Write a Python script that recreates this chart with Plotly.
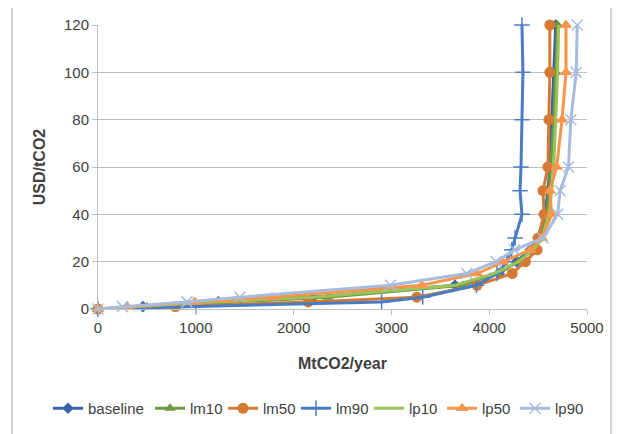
import plotly.graph_objects as go

price = [0, 1, 3, 5, 10, 15, 20, 25, 30, 40, 50, 60, 80, 100, 120]

baseline = [0, 460, 1230, 2200, 3650, 4100, 4280, 4420, 4500, 4570, 4600, 4620, 4640, 4660, 4680]
lm10 = [0, 500, 1370, 2350, 3730, 4080, 4300, 4440, 4520, 4590, 4610, 4630, 4660, 4680, 4700]
lm50 = [0, 790, 2150, 3260, 3875, 4235, 4370, 4490, 4500, 4560, 4550, 4600, 4610, 4620, 4620]
lm90 = [0, 1000, 2900, 3320, 3870, 4080, 4180, 4230, 4265, 4335, 4315, 4325, 4335, 4345, 4335]
lp10 = [0, 400, 1200, 2200, 3650, 4050, 4300, 4450, 4540, 4610, 4640, 4660, 4680, 4700, 4710]
lp50 = [0, 300, 990, 1780, 3310, 3875, 4140, 4420, 4540, 4640, 4620, 4690, 4745, 4785, 4785]
lp90 = [0, 250, 910, 1450, 2990, 3770, 4070, 4260, 4550, 4700, 4725, 4810, 4835, 4890, 4900]

series = [
    ("baseline", baseline, "#3B64A8", "diamond", 9),
    ("lm10", lm10, "#6C9A3C", "triangle-up", 10),
    ("lm50", lm50, "#D47A35", "circle", 11),
    ("lm90", lm90, "#4A7CC4", "cross-thin", 11),
    ("lp10", lp10, "#9CC35A", None, 0),
    ("lp50", lp50, "#F7964A", "triangle-up", 11),
    ("lp90", lp90, "#A7BBDE", "x-thin", 11),
]

# page is offset by the browser's 8px body margin
W, H = 615, 426
L, R, T, B = 90, 36, 17, 125
PW, PH = W - L - R, H - T - B

fig = go.Figure()
for i, (name, xs, color, sym, size) in enumerate(series):
    leg = "legend" if i == 0 else "legend2"
    if sym is None:
        fig.add_trace(go.Scatter(x=xs, y=price, name=name, mode="lines", legend=leg,
                                 line=dict(color=color, width=3), cliponaxis=False))
    else:
        mk = dict(symbol=sym, size=size, color=color)
        if "thin" in sym:
            mk["line"] = dict(color=color, width=1.5)
        fig.add_trace(go.Scatter(x=xs, y=price, name=name, mode="lines+markers", legend=leg,
                                 line=dict(color=color, width=3), marker=mk,
                                 cliponaxis=False))

font = "Liberation Sans"
legy = (301 - 384) / PH
legcommon = dict(orientation="h", y=legy, yanchor="top", xanchor="left",
                 font=dict(family=font, size=15, color="#404040"), itemwidth=30,
                 tracegroupgap=0, bgcolor="rgba(0,0,0,0)")
fig.update_layout(
    width=W, height=H,
    margin=dict(l=L, r=R, t=T, b=B, autoexpand=False),
    paper_bgcolor="white", plot_bgcolor="white",
    font=dict(family=font, size=15, color="#404040"),
    showlegend=True,
    legend=dict(x=(40 - L) / PW, **legcommon),
    legend2=dict(x=(142 - L) / PW, entrywidth=28, entrywidthmode="pixels", **legcommon),
    xaxis=dict(range=[0, 5000], dtick=1000, showgrid=False, zeroline=False, automargin=False,
               showline=True, linecolor="#BFBFBF", linewidth=1,
               ticks="outside", ticklen=5, tickcolor="#BFBFBF",
               title=dict(text="<b>MtCO2/year</b>", font=dict(size=16, color="#404040"), standoff=22)),
    yaxis=dict(range=[0, 120], dtick=20, showgrid=True, gridcolor="#BFBFBF", zeroline=False, automargin=False,
               showline=True, linecolor="#BFBFBF", linewidth=1,
               ticks="outside", ticklen=5, tickcolor="#BFBFBF",
               title=dict(text="<b>USD/tCO2</b>", font=dict(size=16, color="#404040"), standoff=14)),
    shapes=[dict(type="rect", xref="paper", yref="paper",
                 x0=(4 - L) / PW, x1=(603 - L) / PW,
                 y0=(301 - 440) / PH, y1=(301 + 3) / PH,
                 line=dict(color="#A6A6A6", width=1), layer="below")],
)

fig.write_html("out.html")
